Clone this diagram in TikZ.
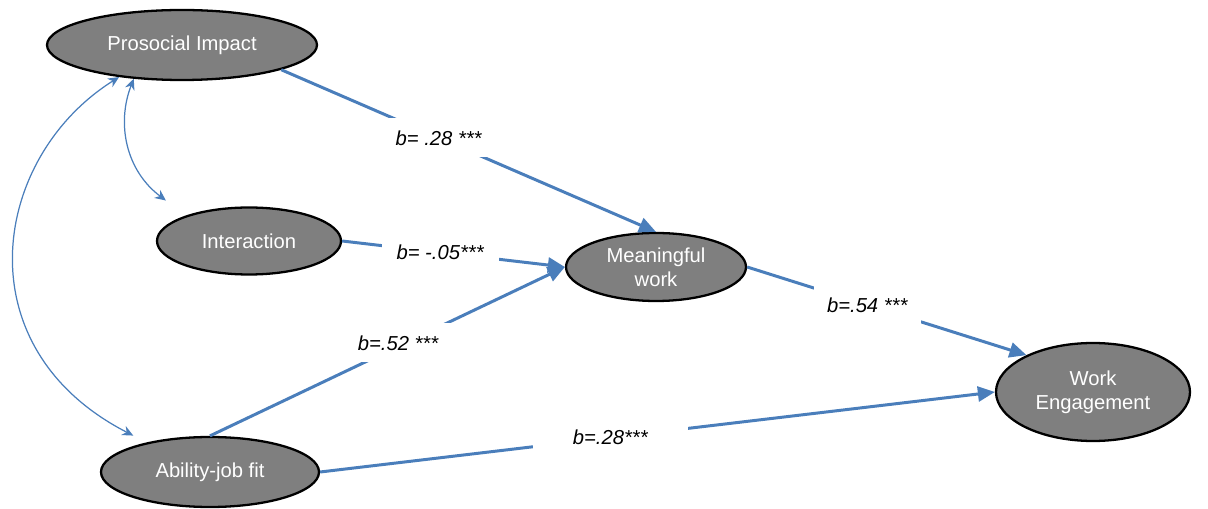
\documentclass[tikz,border=0pt]{standalone}
\usepackage{fontspec}
\setmainfont{Liberation Sans}
\usetikzlibrary{shapes.geometric, arrows.meta}
\definecolor{varfill}{HTML}{7F7F7F}
\definecolor{pathblue}{HTML}{4A7EBB}

\begin{document}
\begin{tikzpicture}[
	font=\fontsize{11.5}{13.5}\selectfont,
	var/.style={ellipse, draw=black, line width=1.3pt, fill=varfill, text=white, align=center, inner sep=0pt},
	effect/.style={draw=pathblue, line width=1.7pt, -{Triangle[length=0.34cm, width=0.3cm]}},
	corr/.style={draw=pathblue, line width=0.7pt, {Stealth[length=0.22cm, width=0.2cm]}-{Stealth[length=0.22cm, width=0.2cm]}},
	coef/.style={fill=white, inner sep=0pt, minimum height=0.78cm, font=\fontsize{11.5}{13.5}\selectfont\itshape}
	]
	
	\useasboundingbox (0,0) rectangle (24.16,10.16);
	
	% ==================================================
	% Variables
	% ==================================================
	\node[var, minimum width=5.4cm, minimum height=1.4cm] (pro) at (3.64,9.26) {Prosocial Impact};
	\node[var, minimum width=3.68cm, minimum height=1.34cm] (int) at (4.98,5.34) {Interaction};
	\node[var, minimum width=4.36cm, minimum height=1.4cm] (ab) at (4.20,0.72) {Ability-job fit};
	
	\node[var, minimum width=3.6cm, minimum height=1.36cm] (mw) at (13.12,4.82) {Meaningful\\work};
	\node[var, minimum width=3.88cm, minimum height=1.96cm] (we) at (21.86,2.32) {Work\\Engagement};
	
	% ==================================================
	% Paths with coefficients
	% ==================================================
	\draw[effect] (pro.346) -- (mw.north) node[coef, pos=0.42, minimum width=2.0cm] {b= .28 ***};
	\draw[effect] (int.east) -- (mw.west) node[coef, pos=0.44, minimum width=2.34cm] {b= -.05***};
	\draw[effect] (ab.north) -- (mw.west) node[coef, pos=0.53, minimum width=2.1cm, yshift=2pt] {b=.52 ***};
	\draw[effect] (mw.east) -- (we.151) node[coef, pos=0.43, minimum width=2.14cm] {b=.54 ***};
	\draw[effect] (ab.east) -- (we.west) node[coef, pos=0.43, minimum width=3.1cm] {b=.28***};
	
	% correlations between predictors
	\draw[corr, shorten >=0.5cm] (pro.215) .. controls +(-0.35,-0.9) and +(-1.2,0.9) .. (int.158);
	\draw[corr, shorten >=0.3cm] (pro.207) .. controls +(-2.55,-1.6) and +(-3.7,1.9) .. (ab.155);
	
\end{tikzpicture}
\end{document}
